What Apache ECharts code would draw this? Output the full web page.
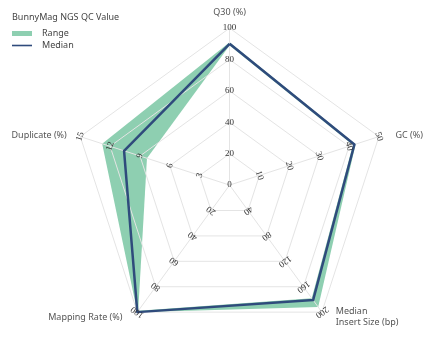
<!DOCTYPE html>
<html>
<head>
<meta charset="utf-8">
<script src="https://cdn.jsdelivr.net/npm/echarts@6/dist/echarts.min.js"></script>
<style>
  html, body { margin: 0; padding: 0; background: #fff; }
  #chart { width: 434px; height: 346px; }
</style>
</head>
<body>
<div id="chart"></div>
<script>
// Axes listed counter-clockwise from the top, as ECharts lays them out
const indicatorNames = ['Q30 (%)', 'Duplicate (%)', 'Mapping Rate (%)', 'Median\nInsert Size (bp)', 'GC (%)'];
const indicatorMax = [100, 15, 100, 200, 50];

// Per-metric spread across samples and the median sample
const rangeMax = [91, 12.8, 100, 192, 42.2];
const rangeMin = [89, 8.3, 99, 178, 41.3];
const medianValues = [90, 10.6, 100, 181, 41.8];

const green = '#8ecfb1';
const navy = '#2f4b7c';
const center = ['52.9%', '53.5%'];
const radius = 157;
const gridColor = '#e4e4e4';

// Extra spacing around each axis name (top, right, bottom, left)
const namePadding = [
  [0, 0, 0, 0],
  [3, 4, 0, 0],
  [0, 9, 6, 0],
  [0, 0, 6, 8],
  [3, 0, 0, 7]
];
const nameRich = {};
namePadding.forEach((p, i) => {
  nameRich['n' + i] = { fontFamily: 'Noto Sans', fontSize: 9, lineHeight: 11, color: '#555', padding: p };
});

// One single-axis radar per metric carries that axis's tick labels,
// turned so each label faces outward along its own spoke.
const labelRadars = indicatorNames.map((n, i) => {
  const angle = 90 + i * 72;
  return {
    center, radius,
    startAngle: angle,
    shape: 'polygon',
    splitNumber: 5,
    z: 4,
    indicator: [{ name: '', min: 0, max: indicatorMax[i] }],
    axisName: { show: false },
    splitArea: { show: false },
    splitLine: { show: false },
    axisLine: { show: false },
    axisTick: { show: false },
    axisLabel: {
      show: true,
      rotate: angle - 90,
      margin: 0,
      align: 'center',
      verticalAlign: 'middle',
      showMinLabel: i === 0,
      fontFamily: 'Liberation Serif', fontSize: 9, color: '#333'
    }
  };
});

const chart = echarts.init(document.getElementById('chart'));
chart.setOption({
  animation: false,
  title: {
    text: 'BunnyMag NGS QC Value',
    left: 12, top: 13, padding: 0,
    textStyle: { fontFamily: 'Noto Sans', fontSize: 9, fontWeight: 'normal', color: '#444' }
  },
  legend: {
    orient: 'vertical',
    left: 12, top: 28, padding: 0,
    itemWidth: 20, itemHeight: 5, itemGap: 1,
    textStyle: { fontFamily: 'Noto Sans', fontSize: 9, lineHeight: 11, color: '#444', padding: [0, 0, 0, 5] },
    data: [
      { name: 'Range', icon: 'rect', itemStyle: { color: green } },
      { name: 'Median', icon: 'path://M0,0 L20,0 L20,1.6 L0,1.6 Z', itemStyle: { color: navy } }
    ]
  },
  radar: [{
    center, radius,
    startAngle: 90,
    shape: 'polygon',
    splitNumber: 5,
    z: 2,
    indicator: indicatorNames.map((n, i) => ({ name: n, min: 0, max: indicatorMax[i] })),
    axisName: {
      fontFamily: 'Noto Sans', fontSize: 9, lineHeight: 11, color: '#555',
      rich: nameRich,
      formatter: (name) => {
        const i = indicatorNames.indexOf(name);
        return name.split('\n').map(line => '{n' + i + '|' + line + '}').join('\n');
      }
    },
    nameGap: 10,
    splitArea: { show: false },
    splitLine: { lineStyle: { color: gridColor, width: 1 } },
    axisLine: { lineStyle: { color: gridColor, width: 1 } },
    axisLabel: { show: false }
  }].concat(labelRadars),
  series: [
    {
      type: 'radar', radarIndex: 0, name: 'Range', z: 1, symbol: 'none',
      lineStyle: { width: 0 },
      areaStyle: { color: green, opacity: 1 },
      itemStyle: { color: green },
      data: [{ value: rangeMax, name: 'Range' }]
    },
    {
      type: 'radar', radarIndex: 0, name: 'RangeLow', z: 1, symbol: 'none',
      lineStyle: { width: 0 },
      areaStyle: { color: '#ffffff', opacity: 1 },
      data: [{ value: rangeMin, name: 'RangeLow' }]
    },
    {
      type: 'radar', radarIndex: 0, name: 'Median', z: 3, symbol: 'none',
      lineStyle: { color: navy, width: 2.5 },
      itemStyle: { color: navy },
      data: [{ value: medianValues, name: 'Median' }]
    }
  ]
});
</script>
</body>
</html>
